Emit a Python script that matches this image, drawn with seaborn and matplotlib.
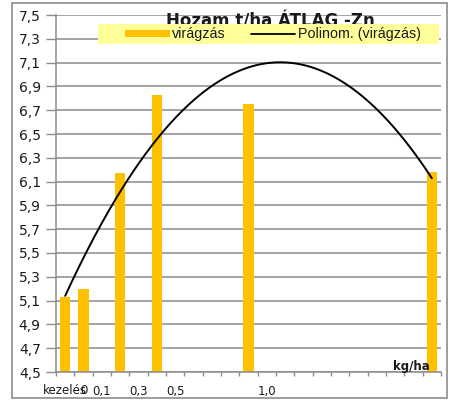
import numpy as np
import pandas as pd
import matplotlib
matplotlib.use("Agg")
import matplotlib.pyplot as plt
from matplotlib.patches import Rectangle, Patch
from matplotlib.lines import Line2D
import seaborn as sns

# Dose categories on the x axis (21 slots, most left empty)
n_slots = 21
tick_positions = [0, 1, 2, 4, 6, 11]
tick_labels = ["kezelés", "0", "0,1", "0,3", "0,5", "1,0"]

# Yield (t/ha) at flowering, by slot
bar_positions = [0, 1, 3, 5, 10, 20]
bar_values = [5.13, 5.20, 6.17, 6.83, 6.75, 6.18]

y_ticks = [4.5, 4.7, 4.9, 5.1, 5.3, 5.5, 5.7, 5.9, 6.1, 6.3, 6.5, 6.7, 6.9, 7.1, 7.3, 7.5]

series_name = "virágzás"
trend_name = "Polinom. (virágzás)"
title = "Hozam t/ha ÁTLAG -Zn"
unit_label = "kg/ha"

bar_color = "#FFC000"
grid_color = "#8c8c8c"
text_color = "#1a1a1a"

sns.set_style("white")
plt.rcParams["font.family"] = ["DejaVu Sans"]

W, H = 452, 400
fig = plt.figure(figsize=(W / 100, H / 100), dpi=100)
ax = fig.add_axes([56 / W, (H - 372) / H, 385 / W, 357 / H])

df = pd.DataFrame({"slot": bar_positions, "yield": bar_values})
sns.barplot(data=df, x="slot", y="yield", native_scale=True, width=0.58,
            color=bar_color, saturation=1, edgecolor="none", ax=ax, zorder=2)

# second-order polynomial trend over the slot index
coef = np.polyfit(bar_positions, bar_values, 2)
xs = np.linspace(bar_positions[0], bar_positions[-1], 300)
trend = pd.DataFrame({"x": xs, "y": np.polyval(coef, xs)})
sns.lineplot(data=trend, x="x", y="y", color="black", lw=1.4, ax=ax, zorder=3)

ax.set_xlim(-0.5, n_slots - 0.5)
ax.set_ylim(y_ticks[0], y_ticks[-1])
ax.set_xlabel("")
ax.set_ylabel("")

ax.set_yticks(y_ticks)
ax.set_yticklabels([f"{v:.1f}".replace(".", ",") for v in y_ticks],
                   fontsize=10, color=text_color)
ax.yaxis.grid(True, color=grid_color, lw=1.1)
ax.set_axisbelow(True)
ax.tick_params(axis="y", which="major", direction="out", length=7,
               width=1.0, color=grid_color, pad=4, left=True)

ax.set_xticks(tick_positions)
ax.set_xticklabels(tick_labels, fontsize=8.5, color=text_color)
ax.set_xticks(np.arange(-0.5, n_slots, 1.0), minor=True)
ax.tick_params(axis="x", which="major", length=0, pad=9)
ax.tick_params(axis="x", which="minor", direction="out", length=3,
               width=1.0, color=grid_color, bottom=True)

for side in ("top", "right"):
    ax.spines[side].set_visible(False)
for side in ("left", "bottom"):
    ax.spines[side].set_color(grid_color)
    ax.spines[side].set_linewidth(1.1)

ax.text(0.971, 0.006, unit_label, transform=ax.transAxes, ha="right",
        va="baseline", fontsize=8.5, fontweight="bold", color=text_color,
        zorder=4)

# chart title, partly hidden behind the legend band
fig.text(270 / W, 1 - 26.5 / H, title, ha="center", va="baseline",
         fontsize=12, fontweight="bold", color=text_color, zorder=1)

fig.patches.append(Rectangle((98.3 / W, 1 - 44.3 / H), 340.7 / W, 20.3 / H,
                             transform=fig.transFigure, facecolor="#FFFF99",
                             edgecolor="none", zorder=2))

handles = [Patch(facecolor=bar_color, edgecolor="none"),
           Line2D([], [], color="black", lw=1.3)]
leg = fig.legend(handles, [series_name, trend_name], ncol=2,
                 loc="center left", bbox_to_anchor=(118 / W, 1 - 34.3 / H),
                 frameon=False, borderpad=0, handlelength=3.1,
                 handleheight=0.35, handletextpad=0.15, columnspacing=1.8,
                 prop={"family": "Liberation Sans", "size": 10.3})
for t in leg.get_texts():
    t.set_color(text_color)
leg.set_zorder(3)

# outer chart frame
fig.patches.append(Rectangle((12 / W, 2 / H), 435 / W, 395 / H,
                             transform=fig.transFigure, facecolor="none",
                             edgecolor=grid_color, lw=1.2, zorder=5))

fig.savefig("out.png", dpi=100)
